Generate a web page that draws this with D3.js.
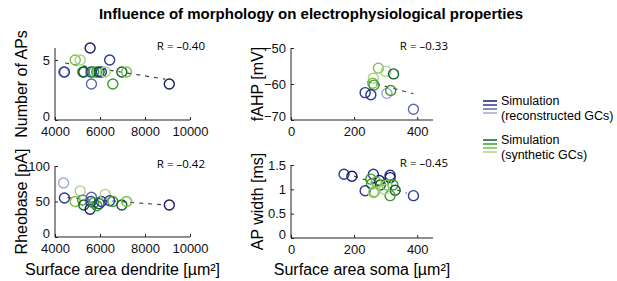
<!DOCTYPE html>
<html>
<head>
<meta charset="utf-8">
<script src="https://cdn.jsdelivr.net/npm/d3@7"></script>
<style>
  body { margin: 0; background: #fff; }
  svg { font-family: "Liberation Sans", Arial, sans-serif; }
  .axis path, .axis line { stroke: #222; }
  .axis text { font-size: 13px; fill: #111; }
</style>
</head>
<body>
<svg width="617" height="281"></svg>
<script>
// shade codes: r0..r3 reconstructed (dark -> light), s0..s3 synthetic (dark -> light)
var shades = {
  r0: "#1b1b62", r1: "#2b3a94", r2: "#5d66b6", r3: "#a4a4d6",
  s0: "#0c5f27", s1: "#3b9b2f", s2: "#7cbf45", s3: "#abd38b"
};

// dendrite panels (same cells)
var dendArea  = [4380, 4420, 4900, 5120, 5230, 5280, 5560, 5600, 5620, 5720, 5860, 5960, 6060, 6230, 6430, 6570, 6970, 7180, 9080];
var numAPs    = [4, 4, 5, 5, 4, 4, 6, 4, 3, 4, 4, 4, 4, 4, 5, 3, 4, 4, 3];
var rheobase  = [76, 55, 50, 65, 52, 45, 39, 50, 56, 48, 44, 47, 50, 60, 51, 50, 45, 50, 45];
var dendShade = ["r3","r1","s2","s3","s1","s0","r0","r1","r2","s1","s1","s0","r1","s3","r1","s1","s0","s2","r0"];

// soma panels
var fahpSoma  = [277, 301, 325, 261, 259, 263, 304, 316, 235, 253, 388];
var fahp      = [-55.6, -56.5, -57.2, -58.4, -59.8, -60.3, -62.6, -61.8, -62.4, -63.0, -67.0];
var fahpShade = ["s2","s3","s0","s3","s2","s1","r3","s1","r1","r1","r2"];

var apwSoma   = [168, 193, 261, 314, 314, 253, 280, 255, 283, 304, 323, 330, 235, 261, 264, 314, 388, 270, 296];
var apWidth   = [1.31, 1.27, 1.31, 1.29, 1.24, 1.21, 1.18, 1.11, 1.09, 1.09, 1.09, 0.98, 0.97, 0.93, 0.95, 0.87, 0.87, 1.15, 1.0];
var apwShade  = ["r1","r0","r1","r1","r0","s1","r0","s1","s0","s2","s1","s0","r1","s3","s2","s1","r1","s2","s3"];

// fitted lines [x0, y0, x1, y1] and correlation labels
var fitAPs  = [4450, 4.75, 8900, 3.4];
var fitRheo = [4550, 55.5, 8950, 45];
var fitFahp = [242, -59.3, 388, -62.7];
var fitApw  = [200, 1.27, 367, 0.92];
var rLabels = ["R = \u20130.40", "R = \u20130.33", "R = \u20130.42", "R = \u20130.45"];

var svg = d3.select("svg");

svg.append("text")
  .attr("x", 311).attr("y", 19)
  .attr("text-anchor", "middle")
  .style("font-weight", "bold").style("font-size", "15px")
  .text("Influence of morphology on electrophysiological properties");

function panel(opt) {
  var x = d3.scaleLinear().domain(opt.xdom).range([opt.left, opt.right]);
  var y = d3.scaleLinear().domain(opt.ydom).range([opt.bottom, opt.top]);
  var g = svg.append("g");

  g.append("g").attr("class", "axis")
    .attr("transform", "translate(0," + opt.bottom + ")")
    .call(d3.axisBottom(x).tickValues(opt.xticks).tickSizeInner(-3).tickSizeOuter(0).tickPadding(7).tickFormat(d3.format("d")))
    .call(function(a) { a.select(".domain").attr("d", "M" + opt.left + ",0H" + opt.right); });

  g.append("g").attr("class", "axis")
    .attr("transform", "translate(" + opt.left + ",0)")
    .call(d3.axisLeft(y).tickValues(opt.yticks).tickSizeInner(-3).tickSizeOuter(0).tickPadding(5).tickFormat(opt.yfmt || d3.format("d")))
    .call(function(a) {
      a.select(".domain").attr("d", "M0," + opt.top + "V" + opt.bottom);
      a.selectAll(".tick text").filter(function(d) { return d === opt.ydom[0]; }).attr("dy", "0em");
    });

  g.append("line")
    .attr("x1", x(opt.fit[0])).attr("y1", y(opt.fit[1]))
    .attr("x2", x(opt.fit[2])).attr("y2", y(opt.fit[3]))
    .attr("stroke", "#444").attr("stroke-width", 1.2)
    .attr("stroke-dasharray", "4,5");

  g.selectAll("circle")
    .data(opt.xs)
    .enter().append("circle")
    .attr("cx", function(d) { return x(d); })
    .attr("cy", function(d, i) { return y(opt.ys[i]); })
    .attr("r", 5)
    .attr("fill", "none")
    .attr("stroke-width", 1.4)
    .attr("stroke", function(d, i) { return shades[opt.cs[i]]; });

  g.append("text")
    .attr("x", opt.right + 15).attr("y", opt.top + 2)
    .attr("text-anchor", "end")
    .style("font-family", "'Open Sans', sans-serif").style("font-size", "11.5px")
    .text(opt.r);

  g.append("text")
    .attr("transform", "translate(" + opt.ylabX + "," + ((opt.top + opt.bottom) / 2) + ") rotate(-90)")
    .attr("text-anchor", "middle")
    .style("font-size", "16px")
    .text(opt.ylab);

  if (opt.xlab) {
    g.append("text")
      .attr("x", (opt.left + opt.right) / 2).attr("y", 275)
      .attr("text-anchor", "middle")
      .style("font-size", "16px")
      .text(opt.xlab);
  }
}

panel({ left: 55, right: 190, top: 48, bottom: 120, xdom: [4000, 10000], ydom: [0, 6],
  xticks: [4000, 6000, 8000, 10000], yticks: [0, 5], xs: dendArea, ys: numAPs, cs: dendShade,
  fit: fitAPs, r: rLabels[0], ylab: "Number of APs", ylabX: 27 });

panel({ left: 291, right: 433, top: 48, bottom: 120, xdom: [0, 450], ydom: [-70, -50],
  xticks: [0, 200, 400], yticks: [-70, -60, -50], xs: fahpSoma, ys: fahp, cs: fahpShade,
  fit: fitFahp, r: rLabels[1], ylab: "fAHP [mV]", ylabX: 263 });

panel({ left: 55, right: 190, top: 166, bottom: 237, xdom: [4000, 10000], ydom: [0, 100],
  xticks: [4000, 6000, 8000, 10000], yticks: [0, 50, 100], xs: dendArea, ys: rheobase, cs: dendShade,
  fit: fitRheo, r: rLabels[2], ylab: "Rheobase [pA]", ylabX: 27, xlab: "Surface area dendrite [\u00b5m\u00b2]" });

panel({ left: 291, right: 433, top: 165, bottom: 238, xdom: [0, 450], ydom: [0, 1.5],
  xticks: [0, 200, 400], yticks: [0, 0.5, 1, 1.5], xs: apwSoma, ys: apWidth, cs: apwShade,
  fit: fitApw, r: rLabels[3], ylab: "AP width [ms]", ylabX: 263, xlab: "Surface area soma [\u00b5m\u00b2]",
  yfmt: function(d) { return String(d); } });

// legend
var legend = [
  { lines: ["r0", "r1", "r2", "r3"], y: 101, text: ["Simulation", "(reconstructed GCs)"] },
  { lines: ["s0", "s1", "s2", "s3"], y: 140, text: ["Simulation", "(synthetic GCs)"] }
];
legend.forEach(function(l) {
  l.lines.forEach(function(c, i) {
    svg.append("line")
      .attr("x1", 483).attr("x2", 497)
      .attr("y1", l.y + i * 4).attr("y2", l.y + i * 4)
      .attr("stroke", shades[c]).attr("stroke-width", 1.5);
  });
  l.text.forEach(function(t, i) {
    svg.append("text")
      .attr("x", 501).attr("y", l.y + 4 + i * 15)
      .style("font-size", "12.5px")
      .text(t);
  });
});
</script>
</body>
</html>
